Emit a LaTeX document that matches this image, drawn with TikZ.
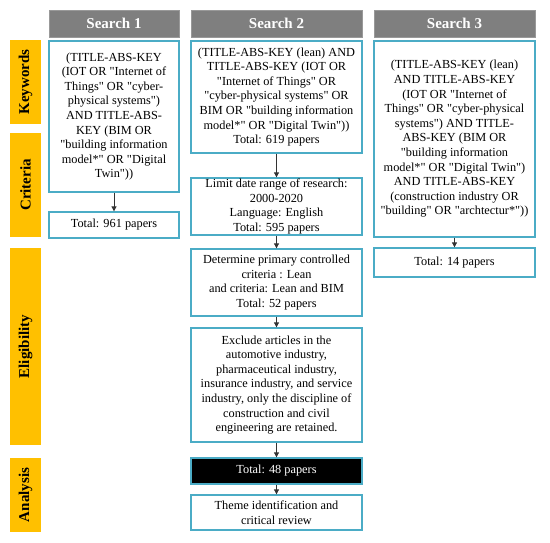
\documentclass[tikz,border=0pt]{standalone}
\usepackage{fontspec}
\setmainfont{Liberation Serif}[Ligatures=TeXOff]
\usetikzlibrary{arrows.meta}
\definecolor{hdr}{HTML}{7F7F7F}
\definecolor{side}{HTML}{FFC000}
\definecolor{teal}{HTML}{4BACC6}
\tikzset{
  hdrbox/.style={fill=hdr, draw=hdr!80, text=white, font=\fontsize{15}{17}\selectfont\bfseries, inner sep=0pt, anchor=center},
  sidebox/.style={fill=side, text=black, font=\fontsize{15}{17}\selectfont\bfseries, inner sep=0pt, rotate=90, anchor=center},
  stepbox/.style={draw=teal, line width=1.3pt, fill=white, align=center, inner sep=0pt, font=\fontsize{12.3}{14.6}\selectfont, anchor=center},
  flow/.style={draw=black!80, line width=0.8pt, -{Triangle[length=5pt,width=5pt]}}
}
\begin{document}
\begin{tikzpicture}[x=1pt,y=-1pt]
\useasboundingbox (0,0) rectangle (550,542);
% headers
\node[hdrbox, minimum width=130pt, minimum height=27pt] (h1) at (114,23.5) {Search 1};
\node[hdrbox, minimum width=171pt, minimum height=27pt] (h2) at (276.5,23.5) {Search 2};
\node[hdrbox, minimum width=161pt, minimum height=27pt] (h3) at (454.5,23.5) {Search 3};
% side labels (rotated: width = vertical extent)
\node[sidebox, minimum width=84pt, minimum height=31pt] (kw) at (25.5,82) {Keywords};
\node[sidebox, minimum width=104pt, minimum height=31pt] (cr) at (25.5,185) {Criteria};
\node[sidebox, minimum width=197pt, minimum height=31pt] (el) at (25.5,346.5) {Eligibility};
\node[sidebox, minimum width=74pt, minimum height=31pt] (an) at (25.5,495) {Analysis};
% search 1
\node[stepbox, minimum width=130pt, minimum height=151pt] (s1k) at (114,116.5) {(TITLE-ABS-KEY\\(IOT OR "Internet of\\Things" OR "cyber-\\physical systems")\\AND TITLE-ABS-\\KEY (BIM OR\\"building information\\model*" OR "Digital\\Twin"))};
\node[stepbox, minimum width=130pt, minimum height=26pt] (s1t) at (114,225) {Total: 961 papers};
% search 2
\node[stepbox, minimum width=171pt, minimum height=112pt] (s2a) at (276.5,97) {(TITLE-ABS-KEY (lean) AND\\TITLE-ABS-KEY (IOT OR\\"Internet of Things" OR\\"cyber-physical systems" OR\\BIM OR "building information\\model*" OR "Digital Twin"))\\Total: 619 papers};
\node[stepbox, minimum width=171pt, minimum height=57pt] (s2b) at (276.5,206.5) {Limit date range of research:\\2000-2020\\Language: English\\Total: 595 papers};
\node[stepbox, minimum width=171pt, minimum height=67pt] (s2c) at (276.5,282.5) {Determine primary controlled\\criteria : Lean\\and criteria: Lean and BIM\\Total: 52 papers};
\node[stepbox, minimum width=171pt, minimum height=114pt] (s2d) at (276.5,385) {Exclude articles in the\\automotive industry,\\pharmaceutical industry,\\insurance industry, and service\\industry, only the discipline of\\construction and civil\\engineering are retained.};
\node[stepbox, fill=black, text=white, minimum width=171pt, minimum height=26pt] (s2e) at (276.5,471) {Total: 48 papers};
\node[stepbox, minimum width=171pt, minimum height=35pt] (s2f) at (276.5,512.5) {Theme identification and\\critical review};
% search 3
\node[stepbox, minimum width=161pt, minimum height=196pt] (s3a) at (454.5,139) {(TITLE-ABS-KEY (lean)\\AND TITLE-ABS-KEY\\(IOT OR "Internet of\\Things" OR "cyber-physical\\systems") AND TITLE-\\ABS-KEY (BIM OR\\"building information\\model*" OR "Digital Twin")\\AND TITLE-ABS-KEY\\(construction industry OR\\"building" OR "archtectur*"))};
\node[stepbox, minimum width=161pt, minimum height=29pt] (s3t) at (454.5,262.5) {Total: 14 papers};
% arrows
\draw[flow] (s1k) -- (s1t);
\draw[flow] (s2a) -- (s2b);
\draw[flow] (s2b) -- (s2c);
\draw[flow] (s2c) -- (s2d);
\draw[flow] (s2d) -- (s2e);
\draw[flow] (s2e) -- (s2f);
\draw[flow] (s3a) -- (s3t);
\end{tikzpicture}
\end{document}
